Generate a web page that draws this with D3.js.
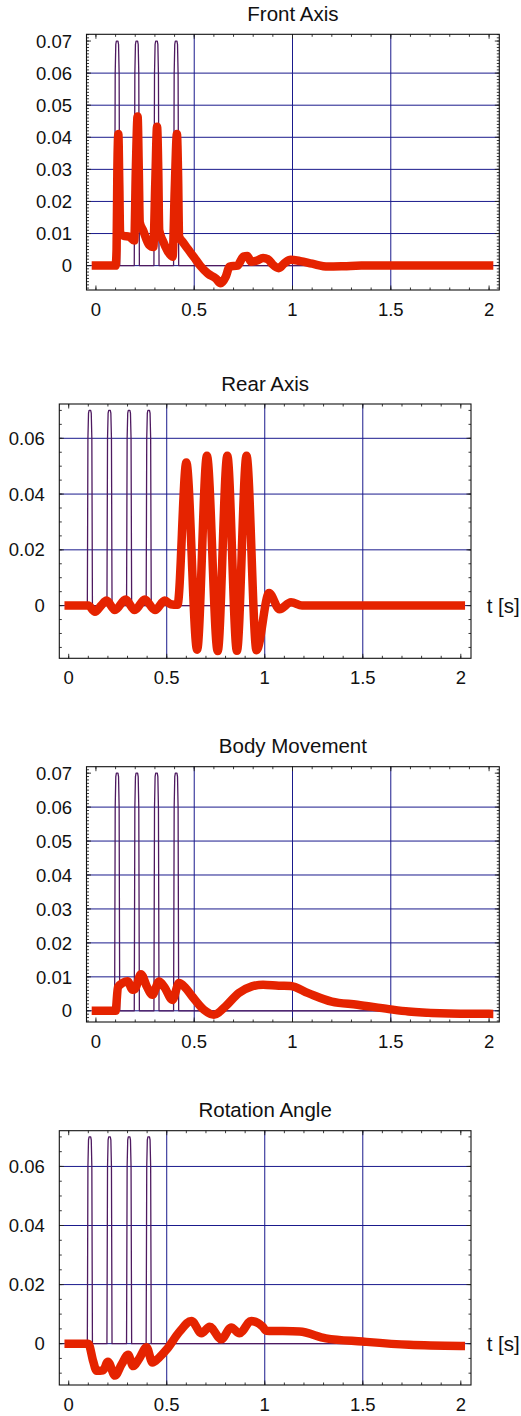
<!DOCTYPE html>
<html>
<head>
<meta charset="utf-8">
<script src="https://d3js.org/d3.v7.min.js"></script>
<style>
  body { margin: 0; background: #fff; }
  svg text { font-family: "Liberation Sans", Arial, sans-serif; fill: #111; }
</style>
</head>
<body>
<div id="chart"></div>
<script>
/*
* four stacked response plots (front / rear / body / rotation)
*/

// ---- tick values and labels
var timeTicks = [0, 0.5, 1, 1.5, 2];
var timeLabels = ["0", "0.5", "1", "1.5", "2"];
var timeGrid = [0.5, 1, 1.5];

var fineTicks = [0, 0.01, 0.02, 0.03, 0.04, 0.05, 0.06, 0.07];
var fineLabels = ["0", "0.01", "0.02", "0.03", "0.04", "0.05", "0.06", "0.07"];
var fineGrid = [0, 0.01, 0.02, 0.03, 0.04, 0.05, 0.06];

var coarseTicks = [0, 0.02, 0.04, 0.06];
var coarseLabels = ["0", "0.02", "0.04", "0.06"];
var coarseGrid = [0, 0.02, 0.04, 0.06];

// ---- input bumps (purple), same in every panel
var inputT = [0, 0.095, 0.098, 0.101, 0.104, 0.112, 0.115, 0.118, 0.121,
              0.195, 0.198, 0.201, 0.204, 0.212, 0.215, 0.218, 0.221,
              0.295, 0.298, 0.301, 0.304, 0.312, 0.315, 0.318, 0.321,
              0.395, 0.398, 0.401, 0.404, 0.412, 0.415, 0.418, 0.421, 2];
var inputV = [0, 0, 0.06, 0.069, 0.07, 0.07, 0.069, 0.06, 0,
              0, 0.06, 0.069, 0.07, 0.07, 0.069, 0.06, 0,
              0, 0.06, 0.069, 0.07, 0.07, 0.069, 0.06, 0,
              0, 0.06, 0.069, 0.07, 0.07, 0.069, 0.06, 0, 0];

// ---- responses (red)
var frontT = [0, 0.1, 0.105, 0.109, 0.114, 0.119, 0.123, 0.14, 0.17, 0.195,
              0.203, 0.212, 0.218, 0.223, 0.24, 0.27, 0.292,
              0.302, 0.311, 0.317, 0.322, 0.34, 0.365, 0.39,
              0.401, 0.412, 0.418, 0.423, 0.44, 0.47, 0.5, 0.53, 0.57, 0.61, 0.635,
              0.66, 0.68, 0.72, 0.75, 0.77, 0.79, 0.82, 0.85, 0.875, 0.9, 0.93, 0.96,
              0.99, 1.04, 1.1, 1.18, 1.26, 1.35, 2];
var frontV = [0, 0, 0.005, 0.03, 0.041, 0.025, 0.01, 0.0093, 0.009, 0.0078,
              0.03, 0.0465, 0.03, 0.0135, 0.011, 0.0065, 0.0058,
              0.026, 0.0433, 0.03, 0.011, 0.0078, 0.0045, 0.0028,
              0.024, 0.041, 0.028, 0.009, 0.0075, 0.005, 0.0025, 0, -0.0025, -0.004, -0.0055,
              -0.0035, -0.0003, 0, 0.0028, 0.003, 0.0012, 0.0016, 0.0024, 0.002, 0.0003, -0.0008, 0.0008,
              0.0018, 0.0014, 0.0006, -0.0003, -0.0002, 0, 0];

var rearT = [0, 0.1, 0.134, 0.165, 0.193, 0.236, 0.29, 0.337, 0.388, 0.44, 0.49, 0.52, 0.555,
             0.6, 0.655, 0.705, 0.76, 0.809, 0.858, 0.907, 0.958, 1.022, 1.075, 1.134, 1.19, 2];
var rearV = [0, 0, -0.0022, 0, 0.0018, -0.0016, 0.0022, -0.0016, 0.0022, -0.0016, 0.0018, 0.0005, 0.0003,
             0.0513, -0.0158, 0.0537, -0.0163, 0.0537, -0.0162, 0.0537, -0.016, 0.0045, -0.0013, 0.0012, 0, 0];

var bodyT = [0, 0.1, 0.112, 0.136, 0.161, 0.186, 0.2, 0.229, 0.26, 0.287, 0.321, 0.35, 0.389,
             0.423, 0.455, 0.49, 0.549, 0.6, 0.659, 0.726, 0.793, 0.85, 0.93, 0.99, 1.08, 1.2,
             1.33, 1.49, 1.59, 1.75, 2];
var bodyV = [0, 0, 0.007, 0.0082, 0.0087, 0.0062, 0.0065, 0.0108, 0.007, 0.0047, 0.0086, 0.0068, 0.0032,
             0.0082, 0.0068, 0.0042, 0.0003, -0.0012, 0.0013, 0.0052, 0.0072, 0.0077, 0.0074, 0.0073, 0.0052, 0.0027,
             0.0018, 0.0005, -0.0002, -0.0007, -0.0009];

var rotT = [0, 0.1, 0.125, 0.142, 0.176, 0.2, 0.236, 0.27, 0.303, 0.329, 0.36, 0.397, 0.427,
            0.46, 0.498, 0.566, 0.626, 0.677, 0.719, 0.778, 0.829, 0.871, 0.931, 0.99, 1.007,
            1.177, 1.312, 1.499, 1.736, 2];
var rotV = [0, 0, -0.006, -0.0092, -0.009, -0.0061, -0.0108, -0.007, -0.0038, -0.0076, -0.005, -0.0012, -0.0064,
            -0.0048, -0.0021, 0.0041, 0.0077, 0.0035, 0.0057, 0.0015, 0.0055, 0.0035, 0.0077, 0.0057, 0.0044,
            0.0041, 0.0018, 0.0007, -0.0004, -0.0008];

(function () {

    "use strict";

    var W = 521, H = 1416;
    var xDomain = [-0.048, 2.052];

    var panels = [
        { title: "Front Axis", left: 86.5, right: 499.3, top: 34.3, bottom: 290,
          yDomain: [-0.0076, 0.0721], ticks: fineTicks, labels: fineLabels, grid: fineGrid,
          minor: 0.001, t: frontT, v: frontV, unit: false },
        { title: "Rear Axis", left: 59.3, right: 471, top: 404, bottom: 658.3,
          yDomain: [-0.0189, 0.0723], ticks: coarseTicks, labels: coarseLabels, grid: coarseGrid,
          minor: 0.005, t: rearT, v: rearV, unit: true },
        { title: "Body Movement", left: 86.5, right: 499.3, top: 766.7, bottom: 1022,
          yDomain: [-0.0033, 0.0719], ticks: fineTicks, labels: fineLabels, grid: fineGrid,
          minor: 0.001, t: bodyT, v: bodyV, unit: false },
        { title: "Rotation Angle", left: 59.3, right: 471, top: 1130.7, bottom: 1385,
          yDomain: [-0.014, 0.0721], ticks: coarseTicks, labels: coarseLabels, grid: coarseGrid,
          minor: 0.005, t: rotT, v: rotV, unit: true }
    ];

    var svg = d3.select("#chart").append("svg")
        .attr("width", W)
        .attr("height", H);

    panels.forEach(function (p, idx) {

        var x = d3.scaleLinear().domain(xDomain).range([p.left, p.right]);
        var y = d3.scaleLinear().domain(p.yDomain).range([p.bottom, p.top]);

        var g = svg.append("g").attr("class", "panel-" + idx);

        // clip to the frame
        g.append("clipPath").attr("id", "clip" + idx)
            .append("rect")
                .attr("x", p.left).attr("y", p.top)
                .attr("width", p.right - p.left).attr("height", p.bottom - p.top);

        // grid
        g.selectAll("line.hgrid").data(p.grid).enter().append("line")
            .attr("class", "hgrid")
            .attr("x1", p.left).attr("x2", p.right)
            .attr("y1", function (d) { return y(d); })
            .attr("y2", function (d) { return y(d); })
            .attr("stroke", "#1a1a8c").attr("stroke-width", 1);

        g.selectAll("line.vgrid").data(timeGrid).enter().append("line")
            .attr("class", "vgrid")
            .attr("y1", p.top).attr("y2", p.bottom)
            .attr("x1", function (d) { return x(d); })
            .attr("x2", function (d) { return x(d); })
            .attr("stroke", "#1a1a8c").attr("stroke-width", 1);

        // ticks (inward, all four sides)
        var xMinor = d3.range(0, 2.001, 0.1);
        var yMinor = d3.range(Math.ceil(p.yDomain[0] / p.minor), Math.floor(p.yDomain[1] / p.minor) + 1)
                .map(function (k) { return k * p.minor; });

        var tickPath = "";
        xMinor.forEach(function (d) {
            var xx = x(d);
            tickPath += "M" + xx + "," + p.bottom + "v-2.5M" + xx + "," + p.top + "v2.5";
        });
        timeTicks.forEach(function (d) {
            var xx = x(d);
            tickPath += "M" + xx + "," + p.bottom + "v-4.5M" + xx + "," + p.top + "v4.5";
        });
        yMinor.forEach(function (d) {
            var yy = y(d);
            tickPath += "M" + p.left + "," + yy + "h2.5M" + p.right + "," + yy + "h-2.5";
        });
        p.ticks.forEach(function (d) {
            var yy = y(d);
            tickPath += "M" + p.left + "," + yy + "h4.5M" + p.right + "," + yy + "h-4.5";
        });
        g.append("path").attr("d", tickPath)
            .attr("stroke", "#222").attr("stroke-width", 0.9).attr("fill", "none");

        // input bumps
        var line = d3.line()
            .x(function (d) { return x(d[0]); })
            .y(function (d) { return y(d[1]); });

        g.append("path")
            .datum(d3.zip(inputT, inputV))
            .attr("clip-path", "url(#clip" + idx + ")")
            .attr("d", line)
            .attr("fill", "none")
            .attr("stroke", "#4e1a60")
            .attr("stroke-width", 1.3)
            .attr("stroke-linejoin", "round");

        // response
        var smooth = d3.line()
            .curve(d3.curveMonotoneX)
            .x(function (d) { return x(d[0]); })
            .y(function (d) { return y(d[1]); });

        g.append("path")
            .datum(d3.zip(p.t, p.v))
            .attr("clip-path", "url(#clip" + idx + ")")
            .attr("d", smooth)
            .attr("fill", "none")
            .attr("stroke", "#e52300")
            .attr("stroke-width", 8.5)
            .attr("stroke-linejoin", "round")
            .attr("stroke-linecap", "square");

        // frame
        g.append("rect")
            .attr("x", p.left).attr("y", p.top)
            .attr("width", p.right - p.left).attr("height", p.bottom - p.top)
            .attr("fill", "none").attr("stroke", "#111").attr("stroke-width", 1.1);

        // tick labels
        g.selectAll("text.ylab").data(p.ticks).enter().append("text")
            .attr("class", "ylab")
            .attr("x", p.left - 14.5)
            .attr("y", function (d) { return y(d); })
            .attr("dy", "0.36em")
            .attr("text-anchor", "end")
            .attr("font-size", 18.5)
            .text(function (d, i) { return p.labels[i]; });

        g.selectAll("text.xlab").data(timeTicks).enter().append("text")
            .attr("class", "xlab")
            .attr("x", function (d) { return x(d); })
            .attr("y", p.bottom + 25.7)
            .attr("text-anchor", "middle")
            .attr("font-size", 18.5)
            .text(function (d, i) { return timeLabels[i]; });

        // title
        g.append("text")
            .attr("x", (p.left + p.right) / 2)
            .attr("y", p.top - 13.5)
            .attr("text-anchor", "middle")
            .attr("font-size", 20.5)
            .text(p.title);

        if (p.unit) {
            g.append("text")
                .attr("x", 486.7)
                .attr("y", y(0))
                .attr("dy", "0.36em")
                .attr("font-size", 20.5)
                .text("t [s]");
        }
    });

}());
</script>
</body>
</html>
